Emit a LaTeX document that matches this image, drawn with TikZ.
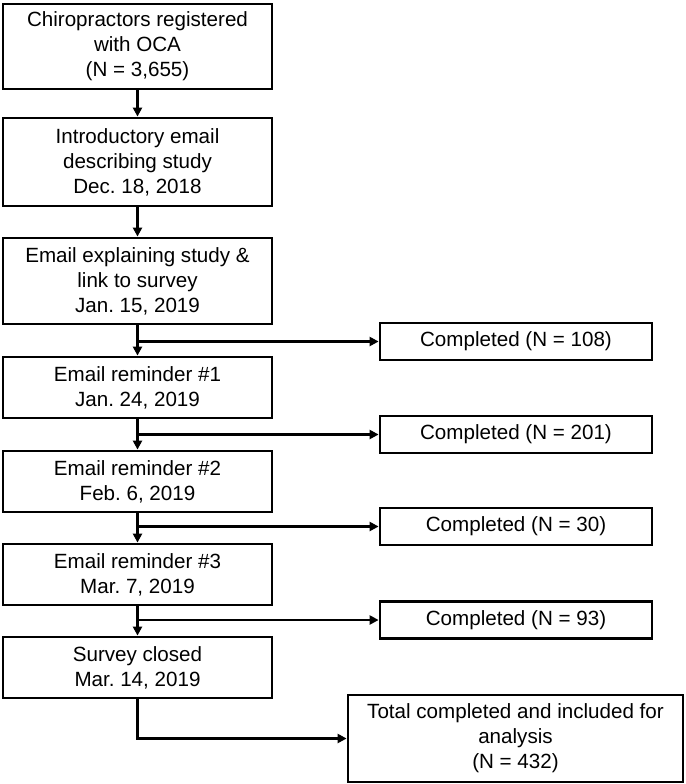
\documentclass[tikz,border=0pt]{standalone}
\usepackage{fontspec}
\setmainfont{Liberation Sans}
\usetikzlibrary{arrows.meta}
\frenchspacing
\begin{document}
\begin{tikzpicture}[x=1pt,y=-1pt,
  box/.style={draw,line width=2.8pt,align=center,inner sep=0pt,
    font=\fontsize{20.6}{25}\selectfont},
  leftbox/.style={box,minimum width=269pt},
  compbox/.style={box,minimum width=272pt,minimum height=37pt},
  arr/.style={line width=2.4pt,-{Triangle[length=9pt,width=9pt]}}]
\useasboundingbox[fill=white] (0,0) rectangle (685,784);
\node[leftbox,minimum height=85pt] (b1) at (137.5,46.5) {Chiropractors registered\\with OCA\\(N = 3,655)};
\node[leftbox,minimum height=88pt] (b2) at (137.5,162) {Introductory email\\describing study\\Dec. 18, 2018};
\node[leftbox,minimum height=86pt] (b3) at (137.5,281) {Email explaining study \&\\link to survey\\Jan. 15, 2019};
\node[leftbox,minimum height=61pt] (b4) at (137.5,387.5) {Email reminder \#1\\Jan. 24, 2019};
\node[leftbox,minimum height=61pt] (b5) at (137.5,481.5) {Email reminder \#2\\Feb. 6, 2019};
\node[leftbox,minimum height=61pt] (b6) at (137.5,574.5) {Email reminder \#3\\Mar. 7, 2019};
\node[leftbox,minimum height=61pt] (b7) at (137.5,667.5) {Survey closed\\Mar. 14, 2019};
\node[compbox] (c1) at (516,341.5) {Completed (N = 108)};
\node[compbox] (c2) at (516,434.5) {Completed (N = 201)};
\node[compbox] (c3) at (516,526.5) {Completed (N = 30)};
\node[compbox] (c4) at (516,620) {Completed (N = 93)};
\node[box,minimum width=335pt,minimum height=87pt] (t) at (515.5,738.5) {Total completed and included for\\analysis\\(N = 432)};
\draw[arr] (b1) -- (b2);
\draw[arr] (b2) -- (b3);
\draw[arr] (b3) -- (b4);
\draw[arr] (b4) -- (b5);
\draw[arr] (b5) -- (b6);
\draw[arr] (b6) -- (b7);
\coordinate (j1) at (b3.south |- c1.west);
\coordinate (j2) at (b4.south |- c2.west);
\coordinate (j3) at (b5.south |- c3.west);
\coordinate (j4) at (b6.south |- c4.west);
\draw[arr] (j1) -- (c1);
\draw[arr] (j2) -- (c2);
\draw[arr] (j3) -- (c3);
\draw[arr] (j4) -- (c4);
\draw[arr] (b7.south) |- (t.west);
\end{tikzpicture}
\end{document}
